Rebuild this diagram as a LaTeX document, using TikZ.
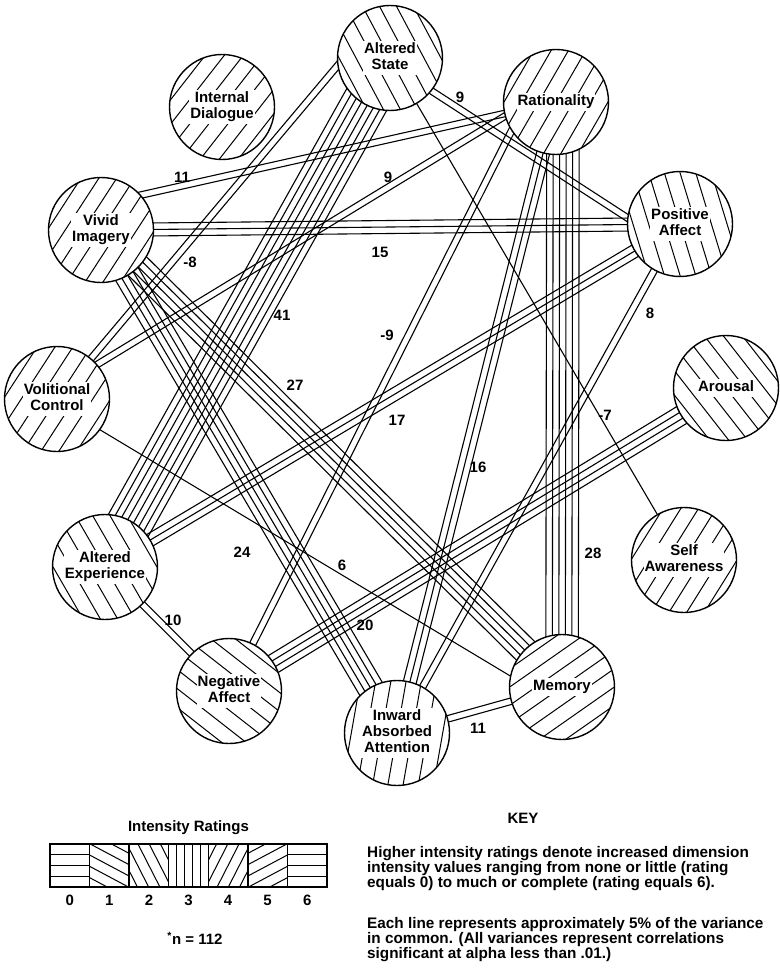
\documentclass[tikz,border=0pt]{standalone}
\usepackage{fontspec}
\setmainfont{Liberation Sans}
\usetikzlibrary{calc}
\pgfdeclarelayer{background}
\pgfsetlayers{background,main}
\setlength{\fboxsep}{1pt}
\newcommand\dimlbl[1]{\colorbox{white}{\begin{tabular}{@{}c@{}}#1\end{tabular}}}
\newcommand\bund[5]{%
  \coordinate (bA) at ($(#1)+(#2)$);
  \coordinate (bB) at ($(#3)+(#4)$);
  \foreach \kk in {1,...,#5}{%
    \pgfmathsetmacro\boff{(\kk-(#5+1)/2)*6.5}%
    \draw[edge] ($(bA)!\boff pt!90:(bB)$) -- ($(bB)!\boff pt!-90:(bA)$);
  }%
}
\tikzset{
  edge/.style={line width=1.1pt},
  hatchang/.style={path picture={%
    \foreach \hk in {-4,...,4}{\draw[line width=1pt]
      ($(path picture bounding box.center)+({0-(#1)}:70)+({90-(#1)}:\hk*15)$) --
      ($(path picture bounding box.center)+({180-(#1)}:70)+({90-(#1)}:\hk*15)$);}}},
  dim/.style={circle, draw, line width=1.4pt, minimum size=105pt, inner sep=0pt,
    fill=white, font=\fontsize{15}{16}\selectfont\bfseries},
  num/.style={font=\fontsize{15}{16}\selectfont\bfseries, inner sep=0pt},
  keytxt/.style={font=\fontsize{15.3}{13.6}\selectfont\bfseries, align=left, inner sep=0pt}
}
\begin{document}
\begin{tikzpicture}[x=1pt,y=-1pt]
\useasboundingbox (0,0) rectangle (779,971);
% dimensions
\node[dim, hatchang=-62] (AS) at (390,58) {\dimlbl{Altered\\State}};
\node[dim, hatchang=52]  (ID) at (222,107) {\dimlbl{Internal\\Dialogue}};
\node[dim, hatchang=60]  (RA) at (556,102) {\dimlbl{Rationality}};
\node[dim, hatchang=-73] (PA) at (680,224) {\dimlbl{Positive\\Affect}};
\node[dim, hatchang=57]  (VI) at (101,230) {\dimlbl{Vivid\\Imagery}};
\node[dim, hatchang=57]  (VC) at (57,399) {\dimlbl{Volitional\\Control}};
\node[dim, hatchang=-52] (AR) at (726,388) {\dimlbl{Arousal}};
\node[dim, hatchang=58]  (SA) at (684,560) {\dimlbl{Self\\Awareness}};
\node[dim, hatchang=-60] (AE) at (105,567) {\dimlbl{Altered\\Experience}};
\node[dim, hatchang=-38] (NA) at (229,691) {\dimlbl{Negative\\Affect}};
\node[dim, hatchang=80]  (IA) at (397,733) {\dimlbl{Inward\\Absorbed\\Attention}};
\node[dim, hatchang=35]  (ME) at (562,687) {\dimlbl{Memory}};
% connections
\begin{pgfonlayer}{background}
\bund{VI}{0,-26}{RA}{0,0}{2}
\bund{VI}{0,0}{PA}{0,0}{3}
\bund{VI}{0,0}{ME}{0,0}{5}
\bund{VI}{0,0}{IA}{0,0}{5}
\bund{AS}{0,6}{PA}{0,28}{2}
\bund{AS}{-46,0}{VC}{0,0}{2}
\bund{AS}{0,0}{AE}{0,0}{8}
\bund{AS}{0,0}{SA}{0,0}{1}
\bund{RA}{0,-17}{VC}{0,-10}{2}
\bund{RA}{7,0}{ME}{0,0}{6}
\bund{RA}{0,0}{IA}{0,0}{3}
\bund{RA}{-30,0}{NA}{0,0}{2}
\bund{PA}{0,0}{AE}{0,0}{3}
\bund{PA}{0,0}{IA}{0,0}{2}
\bund{AR}{0,0}{NA}{0,0}{4}
\bund{VC}{0,5}{ME}{0,20}{1}
\bund{AE}{0,0}{NA}{0,0}{2}
\bund{IA}{0,0}{ME}{0,0}{2}
\end{pgfonlayer}
% values
\node[num] (l1) at (182,177) {11};
\node[num] (l2) at (380,252) {15};
\node[num] (l3) at (295,385) {27};
\node[num] (l4) at (242,552) {24};
\node[num] (l5) at (460,97) {9};
\node[num] (l6) at (190,262) {-8};
\node[num] (l7) at (282,315) {41};
\node[num] (l8) at (605,415) {-7};
\node[num] (l9) at (388,177) {9};
\node[num] (l10) at (593,553) {28};
\node[num] (l11) at (478,467) {16};
\node[num] (l12) at (387,335) {-9};
\node[num] (l13) at (397,420) {17};
\node[num] (l14) at (650,313) {8};
\node[num] (l15) at (365,625) {20};
\node[num] (l16) at (342,565) {6};
\node[num] (l17) at (173,620) {10};
\node[num] (l18) at (478,728) {11};
% legend
\node[num] (irt) at (188.5,828) {Intensity Ratings};
\foreach \i/\ha/\hs/\hp in {0/0/10.75/0,1/-28/10/0,2/-63/10/0,3/90/8/4,4/63/10/0,5/28/10/0,6/0/10.75/0}{
  \pgfmathsetmacro\xl{50+\i*39.571}
  \pgfmathsetmacro\xr{50+(\i+1)*39.571}
  \begin{scope}
    \clip (\xl,844) rectangle (\xr,887);
    \begin{scope}[shift={({(\xl+\xr)/2},865.5)}, rotate=\ha]
      \foreach \j in {-5,...,5}{\draw[line width=1pt] (-40,\j*\hs+\hp) -- (40,\j*\hs+\hp);}
    \end{scope}
  \end{scope}
  \draw[line width=1.4pt] (\xl,844) -- (\xl,887);
  \node[num] (c\i) at ({(\xl+\xr)/2},900) {\i};
}
\draw[line width=1.6pt] (50,844) rectangle (327,887);
\node[num] (nn) at (195,938) {\textsuperscript{*}n = 112};
\node[num] (key) at (523,818) {KEY};
\node[keytxt, anchor=north west] (k1) at (367,846) {Higher intensity ratings denote increased dimension\\intensity values ranging from none or little (rating\\equals 0) to much or complete (rating equals 6).};
\node[keytxt, anchor=north west] (k2) at (367,917) {Each line represents approximately 5\% of the variance\\in common. (All variances represent correlations\\significant at alpha less than .01.)};
\end{tikzpicture}
\end{document}
